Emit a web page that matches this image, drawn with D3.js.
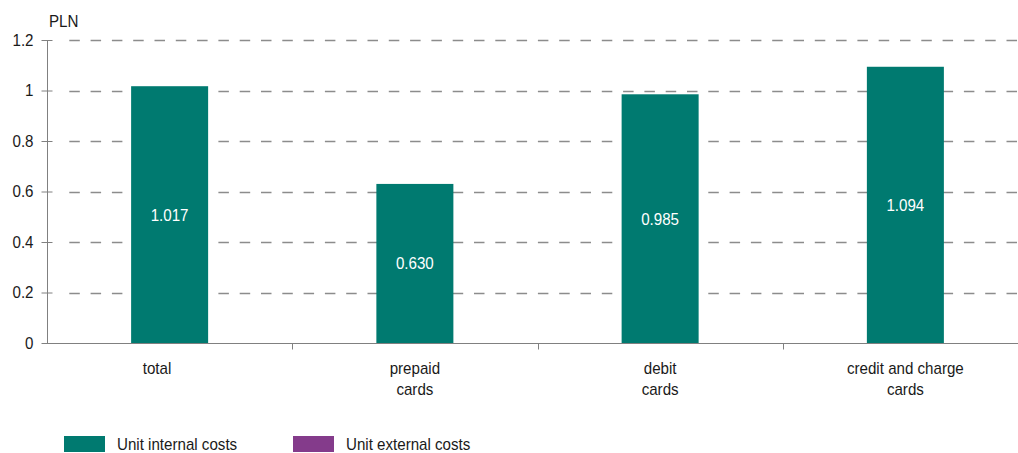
<!DOCTYPE html>
<html>
<head>
<meta charset="utf-8">
<script src="https://cdn.jsdelivr.net/npm/d3@7"></script>
<style>
  html, body { margin: 0; padding: 0; background: #ffffff; }
  svg { display: block; }
  text { font-family: "Liberation Sans", Arial, sans-serif; font-size: 17px; fill: #1a1a1a; }
</style>
</head>
<body>
<svg id="chart" width="1018" height="453"></svg>
<script>
// Unit cost of card payments, PLN
// (the first label carries trailing padding spaces, as in the source sheet)
const categories = [["total\u00a0\u00a0\u00a0\u00a0\u00a0\u00a0"], ["prepaid", "cards"], ["debit", "cards"], ["credit and charge", "cards"]];
const internalCosts = [1.017, 0.630, 0.985, 1.094];
const externalCosts = [0, 0, 0, 0];
const yTicks = [0, 0.2, 0.4, 0.6, 0.8, 1, 1.2];
const seriesNames = ["Unit internal costs", "Unit external costs"];
const seriesColors = ["#007a70", "#843b8b"];

// narrow sans look: regular face squeezed horizontally around its anchor
const SQUEEZE = 0.89;
const place = (x, y) => `translate(${x},${y}) scale(${SQUEEZE},1)`;

const svg = d3.select("#chart");
const margin = { left: 47, top: 40, bottom: 343, right: 1028 };

const x = d3.scaleBand()
  .domain(d3.range(categories.length))
  .range([margin.left, margin.right])
  .paddingInner(0.686)
  .paddingOuter(0.343);

const y = d3.scaleLinear().domain([0, 1.2]).range([margin.bottom, margin.top]);

// dashed horizontal gridlines
svg.append("g")
  .selectAll("line")
  .data(yTicks.filter(d => d > 0))
  .join("line")
  .attr("x1", 58.5)
  .attr("x2", 1018)
  .attr("y1", d => Math.round(y(d)) + 0.5)
  .attr("y2", d => Math.round(y(d)) + 0.5)
  .attr("stroke", "#8c8c8c")
  .attr("stroke-width", 1.3)
  .attr("stroke-dasharray", "10.5 10.8")
  .attr("stroke-dashoffset", 10.5);

// bars: internal costs at the bottom, external costs stacked above
const barData = categories.map((c, i) => ({ i, internal: internalCosts[i], external: externalCosts[i] }));

svg.append("g")
  .selectAll("rect.int")
  .data(barData)
  .join("rect")
  .attr("class", "int")
  .attr("x", d => x(d.i))
  .attr("width", x.bandwidth())
  .attr("y", d => y(d.internal))
  .attr("height", d => y(0) - y(d.internal))
  .attr("fill", seriesColors[0]);

svg.append("g")
  .selectAll("rect.ext")
  .data(barData.filter(d => d.external > 0))
  .join("rect")
  .attr("class", "ext")
  .attr("x", d => x(d.i))
  .attr("width", x.bandwidth())
  .attr("y", d => y(d.internal + d.external))
  .attr("height", d => y(d.internal) - y(d.internal + d.external))
  .attr("fill", seriesColors[1]);

// value labels centred in each bar
svg.append("g")
  .selectAll("text")
  .data(barData)
  .join("text")
  .attr("transform", d => place(x(d.i) + x.bandwidth() / 2, (y(0) + y(d.internal)) / 2))
  .attr("dy", "0.35em")
  .attr("text-anchor", "middle")
  .style("fill", "#ffffff")
  .text(d => d3.format(".3f")(d.internal));

// y axis
const yAxis = svg.append("g")
  .attr("transform", `translate(${margin.left + 0.5},0)`)
  .call(d3.axisLeft(y).tickValues(yTicks).tickSize(6).tickPadding(8)
    .tickFormat(d => d3.format("")(d)));
yAxis.select(".domain").attr("stroke", "#808080").attr("d", `M0,${y(1.2)}V${y(0)}`);
yAxis.selectAll(".tick line").attr("stroke", "#808080").attr("x1", 5);
yAxis.selectAll(".tick text")
  .attr("x", null)
  .attr("transform", place(-14, 0))
  .style("font-size", "17px").style("fill", "#1a1a1a")
  .style("font-family", '"Liberation Sans", Arial, sans-serif');

// x axis with tick marks on the category boundaries
const xAxisG = svg.append("g").attr("transform", `translate(0,${Math.round(y(0)) + 0.5})`);
xAxisG.append("line")
  .attr("x1", margin.left).attr("x2", 1018)
  .attr("stroke", "#808080");
xAxisG.selectAll("line.tk")
  .data(d3.range(1, categories.length))
  .join("line")
  .attr("class", "tk")
  .attr("x1", i => Math.round(x(i) - x.step() * x.paddingInner() / 2) + 0.5)
  .attr("x2", i => Math.round(x(i) - x.step() * x.paddingInner() / 2) + 0.5)
  .attr("y1", 0).attr("y2", 6)
  .attr("stroke", "#808080");

// category labels
const catLabels = svg.append("g")
  .selectAll("text")
  .data(categories)
  .join("text")
  .attr("transform", (d, i) => place(x(i) + x.bandwidth() / 2, 374))
  .attr("text-anchor", "middle");
catLabels.selectAll("tspan")
  .data(d => d)
  .join("tspan")
  .attr("x", 0)
  .attr("dy", (d, j) => j === 0 ? 0 : 21)
  .text(d => d);

// unit label
svg.append("text").attr("transform", place(49, 27)).text("PLN");

// legend
const legend = svg.append("g")
  .selectAll("g")
  .data(seriesNames)
  .join("g")
  .attr("transform", (d, i) => `translate(${64 + i * 229},436)`);
legend.append("rect").attr("width", 41).attr("height", 16).attr("fill", (d, i) => seriesColors[i]);
legend.append("text").attr("transform", place(53, 14)).text(d => d);
</script>
</body>
</html>
